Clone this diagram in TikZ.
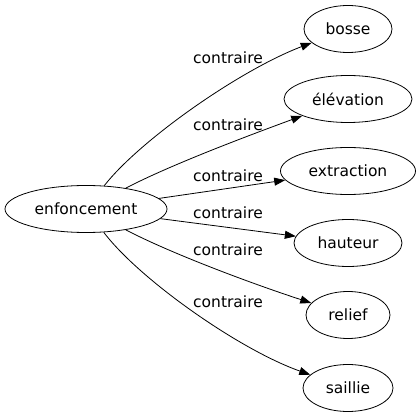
\documentclass[tikz,border=0pt]{standalone}
\usepackage{fontspec}
\setmainfont{DejaVu Sans}
\usetikzlibrary{arrows.meta, shapes.geometric}

\begin{document}
\begin{tikzpicture}[x=1pt, y=-1pt, >={Triangle[length=11pt,width=8pt]}, line width=0.8pt,
  mot/.style={draw, ellipse, inner sep=0pt, minimum height=47pt, font=\fontsize{15.5}{18}\selectfont},
  lien/.style={font=\fontsize{15.5}{18}\selectfont}]
\useasboundingbox (0,0) rectangle (420,419);
\node[mot, minimum width=162pt] (enfoncement) at (86,209) {enfoncement};
\node[mot, minimum width=88pt] (bosse) at (348,29) {bosse};
\node[mot, minimum width=128pt] (elevation) at (348,99) {élévation};
\node[mot, minimum width=135pt] (extraction) at (348,171) {extraction};
\node[mot, minimum width=108pt] (hauteur) at (348,243) {hauteur};
\node[mot, minimum width=84pt] (relief) at (348,315) {relief};
\node[mot, minimum width=90pt] (saillie) at (348,388) {saillie};
% labels
\node[lien] (l1) at (228,58) {contraire};
\node[lien] (l2) at (228,125) {contraire};
\node[lien] (l3) at (228,176) {contraire};
\node[lien] (l4) at (228,213) {contraire};
\node[lien] (l5) at (228,250) {contraire};
\node[lien] (l6) at (228,302) {contraire};
% edges
\draw[->] (enfoncement) .. controls (140,140) and (240,70) .. (bosse);
\draw[->] (enfoncement) .. controls (170,165) and (250,135) .. (elevation);
\draw[->] (enfoncement) -- (extraction);
\draw[->] (enfoncement) -- (hauteur);
\draw[->] (enfoncement) .. controls (170,253) and (250,283) .. (relief);
\draw[->] (enfoncement) .. controls (140,280) and (240,350) .. (saillie);
\end{tikzpicture}
\end{document}
